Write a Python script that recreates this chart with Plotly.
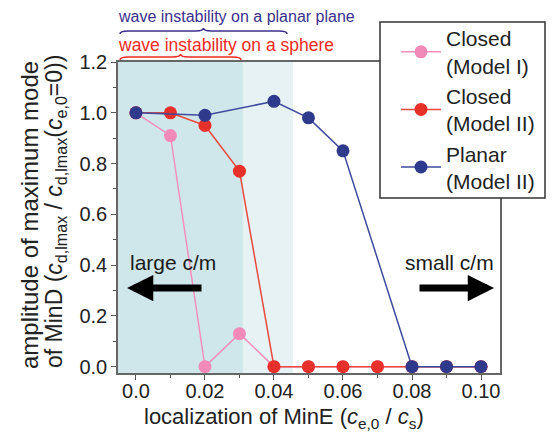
import plotly.graph_objects as go

# ---- data ----
x_closed1 = [0.0, 0.01, 0.02, 0.03, 0.04, 0.05, 0.06, 0.07, 0.08, 0.09, 0.10]
y_closed1 = [1.0, 0.91, 0.0, 0.13, 0.0, 0.0, 0.0, 0.0, 0.0, 0.0, 0.0]
x_closed2 = [0.0, 0.01, 0.02, 0.03, 0.04, 0.05, 0.06, 0.07, 0.08, 0.09, 0.10]
y_closed2 = [1.0, 1.0, 0.95, 0.77, 0.0, 0.0, 0.0, 0.0, 0.0, 0.0, 0.0]
x_planar = [0.0, 0.02, 0.04, 0.05, 0.06, 0.08, 0.09, 0.10]
y_planar = [1.0, 0.99, 1.045, 0.98, 0.85, 0.0, 0.0, 0.0]

x_tickvals = [0.0, 0.02, 0.04, 0.06, 0.08, 0.10]
x_ticktext = ["0.0", "0.02", "0.04", "0.06", "0.08", "0.10"]
y_tickvals = [0.0, 0.2, 0.4, 0.6, 0.8, 1.0, 1.2]
y_ticktext = ["0.0", "0.2", "0.4", "0.6", "0.8", "1.0", "1.2"]

sphere_edge = 0.031
planar_edge = 0.0455

FONT = "Arial, Liberation Sans, sans-serif"
W, H = 555, 440
L, R, T, B = 118, 55, 62, 67
PW, PH = W - L - R, H - T - B


def px(xp):
    return (xp - L) / PW


def py(yp):
    return (H - B - yp) / PH


def brace(x0, x1, y, h, q=8):
    xm = (x0 + x1) / 2
    pts = [
        f"M {px(x0)},{py(y + h)}",
        f"Q {px(x0)},{py(y)} {px(x0 + q)},{py(y)}",
        f"L {px(xm - q)},{py(y)}",
        f"Q {px(xm)},{py(y)} {px(xm)},{py(y - h)}",
        f"Q {px(xm)},{py(y)} {px(xm + q)},{py(y)}",
        f"L {px(x1 - q)},{py(y)}",
        f"Q {px(x1)},{py(y)} {px(x1)},{py(y + h)}",
    ]
    return " ".join(pts)


fig = go.Figure()

fig.add_trace(go.Scatter(
    x=x_closed1, y=y_closed1, mode="lines+markers", name="Closed<br>(Model I)",
    line=dict(color="#f48fbd", width=1.5),
    marker=dict(color="#f28ab9", size=13),
))
fig.add_trace(go.Scatter(
    x=x_closed2, y=y_closed2, mode="lines+markers", name="Closed<br>(Model II)",
    line=dict(color="#ea4a40", width=1.5),
    marker=dict(color="#e8302a", size=13),
))
fig.add_trace(go.Scatter(
    x=x_planar, y=y_planar, mode="lines+markers", name="Planar<br>(Model II)",
    line=dict(color="#3d4a9e", width=1.5),
    marker=dict(color="#2f3a8c", size=13),
))

xr = [-0.0052, 0.1055]
yr = [-0.025, 1.2]

shapes = [
    dict(type="rect", xref="x", yref="paper", x0=xr[0], x1=sphere_edge, y0=0, y1=1,
         fillcolor="#cfe7eb", line=dict(width=0), layer="below"),
    dict(type="rect", xref="x", yref="paper", x0=sphere_edge, x1=planar_edge, y0=0, y1=1,
         fillcolor="#e6f2f3", line=dict(width=0), layer="below"),
    dict(type="path", xref="paper", yref="paper", path=brace(120, 287, 31, 3),
         line=dict(color="#3b2f8e", width=1.5)),
    dict(type="path", xref="paper", yref="paper", path=brace(120, 241, 57, 3),
         line=dict(color="#ee2a24", width=1.5)),
    # legend frame
    dict(type="rect", xref="paper", yref="paper", x0=px(380), x1=px(545),
         y0=py(198), y1=py(22), line=dict(color="#333333", width=1.5),
         fillcolor="white", layer="above"),
]

TXT = "#222222"
ytitle1 = "amplitude of maximum mode"
ytitle2 = "of MinD (<i>c</i><sub>d,lmax</sub> / <i>c</i><sub>d,lmax</sub>(<i>c</i><sub>e,0</sub>=0))"
xtitle = "localization of MinE (<i>c</i><sub>e,0</sub> / <i>c</i><sub>s</sub>)"

annotations = [
    dict(text="wave instability on a planar plane", xref="paper", yref="paper",
         x=px(116), y=py(17), xanchor="left", yanchor="middle", showarrow=False,
         font=dict(family=FONT, size=16, color="#3b2f8e")),
    dict(text="wave instability on a sphere", xref="paper", yref="paper",
         x=px(116), y=py(45), xanchor="left", yanchor="middle", showarrow=False,
         font=dict(family=FONT, size=17.5, color="#ee2a24")),
    dict(text="large c/m", xref="paper", yref="paper", x=px(128), y=py(262),
         xanchor="left", yanchor="middle", showarrow=False,
         font=dict(family=FONT, size=21, color="#1a1a1a")),
    dict(text="small c/m", xref="paper", yref="paper", x=px(496), y=py(262),
         xanchor="right", yanchor="middle", showarrow=False,
         font=dict(family=FONT, size=21, color="#1a1a1a")),
    dict(text="", xref="paper", yref="paper", axref="pixel", ayref="pixel",
         x=px(127), y=py(288), ax=76, ay=0, showarrow=True,
         arrowhead=2, arrowwidth=7, arrowsize=0.75, arrowcolor="#000000"),
    dict(text="", xref="paper", yref="paper", axref="pixel", ayref="pixel",
         x=px(494), y=py(288), ax=-76, ay=0, showarrow=True,
         arrowhead=2, arrowwidth=7, arrowsize=0.75, arrowcolor="#000000"),
    dict(text=ytitle1, xref="paper", yref="paper", x=px(29), y=py(215),
         xanchor="center", yanchor="middle", textangle=-90, showarrow=False,
         font=dict(family=FONT, size=24, color=TXT)),
    dict(text=ytitle2, xref="paper", yref="paper", x=px(55), y=py(212),
         xanchor="center", yanchor="middle", textangle=-90, showarrow=False,
         font=dict(family=FONT, size=23, color=TXT)),
    dict(text=xtitle, xref="paper", yref="paper", x=px(284), y=py(418),
         xanchor="center", yanchor="middle", showarrow=False,
         font=dict(family=FONT, size=22, color=TXT)),
]

axis_common = dict(showgrid=False, zeroline=False)

fig.update_layout(
    width=W, height=H,
    margin=dict(l=L, r=R, t=T, b=B),
    paper_bgcolor="white", plot_bgcolor="white",
    font=dict(family=FONT, size=20, color=TXT),
    shapes=shapes, annotations=annotations,
    showlegend=True,
    legend=dict(x=px(396), y=py(18), xanchor="left", yanchor="top",
                borderwidth=0, bgcolor="rgba(0,0,0,0)",
                font=dict(family=FONT, size=21, color=TXT),
                tracegroupgap=0, itemwidth=40),
    xaxis=dict(
        range=xr, tickvals=x_tickvals, ticktext=x_ticktext,
        ticks="outside", ticklen=5, tickwidth=1, tickcolor="#555555",
        minor=dict(dtick=0.01, tick0=0, ticks="outside", ticklen=3, tickcolor="#555555"),
        showline=True, linecolor="#666666", linewidth=1.5, mirror=True,
        tickfont=dict(size=20, color=TXT), ticklabelstandoff=-6,
        **axis_common,
    ),
    yaxis=dict(
        range=yr, tickvals=y_tickvals, ticktext=y_ticktext,
        ticks="outside", ticklen=5, tickwidth=1, tickcolor="#555555",
        minor=dict(dtick=0.1, tick0=0, ticks="outside", ticklen=3, tickcolor="#555555"),
        showline=True, linecolor="#666666", linewidth=1.5, mirror=True,
        tickfont=dict(size=20, color=TXT),
        **axis_common,
    ),
    xaxis2=dict(
        overlaying="x", side="top", anchor="y", range=xr, tickvals=x_tickvals,
        showticklabels=False, ticks="inside", ticklen=5, tickcolor="#555555",
        minor=dict(dtick=0.01, tick0=0, ticks="inside", ticklen=3, tickcolor="#555555"),
        **axis_common,
    ),
    yaxis2=dict(
        overlaying="y", side="right", anchor="x", range=yr, tickvals=y_tickvals,
        showticklabels=False, ticks="inside", ticklen=5, tickcolor="#555555",
        minor=dict(dtick=0.1, tick0=0, ticks="inside", ticklen=3, tickcolor="#555555"),
        **axis_common,
    ),
)

fig.write_html("out.html")
